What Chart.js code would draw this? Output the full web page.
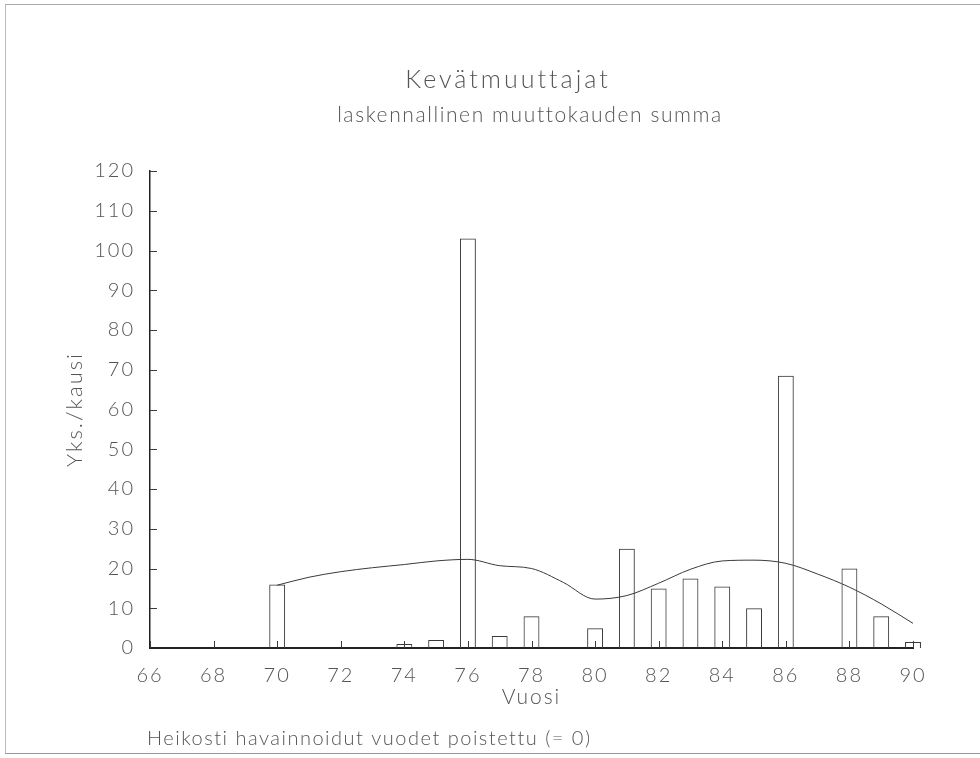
<!DOCTYPE html>
<html>
<head>
<meta charset="utf-8">
<script src="https://cdn.jsdelivr.net/npm/chart.js@4.4.1/dist/chart.umd.min.js"></script>
<style>
  html, body { margin: 0; background: #fff; }
  #wrap { position: relative; width: 980px; height: 758px; }
  #frame { position: absolute; left: 5px; top: 4px; width: 985px; height: 748px;
           border-top: 1px solid #aaa; border-left: 1px solid #bbb; border-bottom: 1px solid #999;
           pointer-events: none; }
</style>
</head>
<body>
<div id="wrap">
  <canvas id="spring"></canvas>
  <div id="frame"></div>
</div>
<script>
const chartTitle = 'Kevätmuuttajat';
const chartSubtitle = 'laskennallinen muuttokauden summa';
const footNote = 'Heikosti havainnoidut vuodet poistettu (= 0)';

// vuodet 66..90, heikosti havainnoidut = 0
const years  = [66, 67, 68, 69, 70, 71, 72, 73, 74, 75, 76, 77, 78, 79, 80, 81, 82, 83, 84, 85, 86, 87, 88, 89, 90];
const counts = [0, 0, 0, 0, 16, 0, 0, 0, 1, 2, 103, 3, 8, 0, 5, 25, 15, 17.5, 15.5, 10, 68.5, 0, 20, 8, 1.5];

// tasoitettu käyrä
const trendYears  = [70, 71, 72, 73, 74, 75, 76, 77, 78, 79, 80, 81, 82, 83, 84, 85, 86, 87, 88, 89, 90];
const trendValues = [15.8, 17.8, 19.2, 20.2, 21, 21.9, 22.3, 20.7, 20, 16.5, 12.3, 13.2, 16.3, 19.8, 21.9, 22.1, 21.3, 18.6, 15.3, 11.1, 6.2];

const xTickLabels = [66, 68, 70, 72, 74, 76, 78, 80, 82, 84, 86, 88, 90];
const yTickLabels = [0, 10, 20, 30, 40, 50, 60, 70, 80, 90, 100, 110, 120];

const ink = '#3a3a3a';
const textInk = '#555';
const fontFam = 'Lato, "Open Sans", sans-serif';

// tick marks point inward like on the plotter original
const innerTicks = {
  id: 'innerTicks',
  afterDatasetsDraw(chart) {
    const {ctx, scales: {x, y}, chartArea} = chart;
    ctx.save();
    ctx.strokeStyle = ink;
    ctx.lineWidth = 1;
    ctx.beginPath();
    for (const t of x.ticks) {
      const px = Math.round(x.getPixelForValue(t.value)) + 0.5;
      ctx.moveTo(px, chartArea.bottom);
      ctx.lineTo(px, chartArea.bottom - 7);
    }
    for (const t of y.ticks) {
      if (t.value === 0) continue;
      const py = Math.round(y.getPixelForValue(t.value)) + 0.5;
      ctx.moveTo(chartArea.left, py);
      ctx.lineTo(chartArea.left + 7, py);
    }
    ctx.stroke();
    ctx.restore();
  }
};

const headerText = {
  id: 'headerText',
  beforeDraw(chart) {
    chart.ctx.letterSpacing = '2px';
  },
  afterDraw(chart) {
    const {ctx} = chart;
    ctx.save();
    ctx.fillStyle = textInk;
    ctx.textBaseline = 'middle';
    ctx.textAlign = 'center';
    ctx.letterSpacing = '3px';
    ctx.font = '300 25px ' + fontFam;
    ctx.fillText(chartTitle, 508, 80);
    ctx.letterSpacing = '1.6px';
    ctx.font = '300 21px ' + fontFam;
    ctx.fillText(chartSubtitle, 530, 115);
    ctx.textAlign = 'left';
    ctx.letterSpacing = '1.5px';
    ctx.font = '300 20px ' + fontFam;
    ctx.fillText(footNote, 147, 739);
    ctx.restore();
  }
};

new Chart(document.getElementById('spring'), {
  data: {
    datasets: [{
      type: 'line',
      label: 'Käyrä',
      data: trendYears.map((v, i) => ({x: v, y: trendValues[i]})),
      borderColor: ink,
      borderWidth: 1,
      pointRadius: 0,
      cubicInterpolationMode: 'monotone',
      fill: false,
      order: 2
    }, {
      type: 'bar',
      label: 'Yks./kausi',
      data: years.map((v, i) => ({x: v, y: counts[i]})),
      backgroundColor: 'rgba(0,0,0,0)',
      borderColor: ink,
      borderWidth: 1,
      borderSkipped: 'bottom',
      categoryPercentage: 1,
      barPercentage: 0.5,
      clip: false,
      order: 1
    }]
  },
  options: {
    responsive: true,
    maintainAspectRatio: false,
    animation: false,
    layout: { padding: { top: 171, right: 67, bottom: 0, left: 0 } },
    plugins: {
      legend: { display: false },
      tooltip: { enabled: false }
    },
    scales: {
      x: {
        type: 'linear',
        offset: false,
        min: 66,
        max: 90,
        afterBuildTicks: s => { s.ticks = xTickLabels.map(v => ({value: v})); },
        afterFit: s => { s.height = 110; },
        grid: { display: false, drawTicks: false, offset: false },
        border: { display: true, color: '#222', width: 2 },
        ticks: { color: textInk, padding: 16, font: { family: fontFam, size: 20, weight: 300 } },
        title: {
          display: true, text: 'Vuosi', color: textInk,
          font: { family: fontFam, size: 21, weight: 300 },
          padding: { top: 0, bottom: 48 }
        }
      },
      y: {
        min: 0,
        max: 120,
        afterBuildTicks: s => { s.ticks = yTickLabels.map(v => ({value: v})); },
        afterFit: s => { s.width = 150; },
        grid: { display: false, drawTicks: false },
        border: { display: true, color: '#222', width: 1.5 },
        ticks: { color: textInk, padding: 15, font: { family: fontFam, size: 20, weight: 300 } },
        title: {
          display: true, text: 'Yks./kausi', color: textInk,
          font: { family: fontFam, size: 22, weight: 300 },
          padding: { top: 62, bottom: 0 }
        }
      }
    }
  },
  plugins: [innerTicks, headerText]
});
</script>
</body>
</html>
